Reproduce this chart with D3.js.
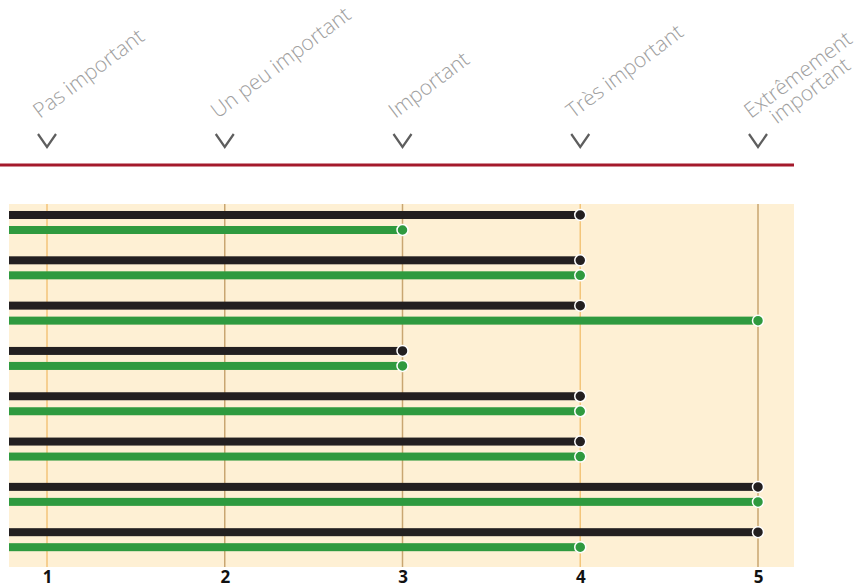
<!DOCTYPE html>
<html><head><meta charset="utf-8">
<script src="https://cdn.jsdelivr.net/npm/d3@7"></script>
<style>body{margin:0;background:#fff}svg{display:block}</style>
</head><body>
<script>
const levels = [1,2,3,4,5];
const levelLabels = [["Pas important"],["Un peu important"],["Important"],["Très important"],["Extrêmement","important"]];
const rows = ["A","B","C","D","E","F","G","H"];
const seriesBlack = [4,4,4,3,4,4,5,5];
const seriesGreen = [3,4,5,3,4,4,5,4];
const gridColors = ["#f3c57a","#c9a671","#c9a671","#f3c57a","#c9a671"];

const W=857,H=587;
const svg=d3.select("body").append("svg").attr("width",W).attr("height",H);
const x=d3.scaleLinear().domain([1,5]).range([47,758]);
const y=d3.scaleBand().domain(rows).range([200,562.5]);
const panel={x0:9,x1:794,y0:204,y1:567};

// header labels
levels.forEach((v,i)=>{
  const g=svg.append("g").attr("transform",`translate(${x(v)-7},119) rotate(-37)`);
  const lines=levelLabels[i];
  const ts=lines.map((l,j)=>g.append("text").attr("y",j*20).text(l)
    .attr("font-family","Open Sans").attr("font-weight",300).attr("font-size",21).attr("fill","#a0a0a0"));
  if(lines.length>1){
    const l0=ts[0].node().getComputedTextLength();
    ts.forEach((t,j)=>{const l=t.node().getComputedTextLength();t.attr("x",(l0-l)/2);});
  }
  // chevron
  svg.append("path").attr("d",`M${x(v)-9},134 L${x(v)},147 L${x(v)+9},134`)
    .attr("fill","none").attr("stroke","#5e5e5e").attr("stroke-width",2.2);
});
svg.append("line").attr("x1",0).attr("x2",794).attr("y1",165).attr("y2",165)
  .attr("stroke","#a4192b").attr("stroke-width",3);

// panel
svg.append("rect").attr("x",panel.x0).attr("y",panel.y0).attr("width",panel.x1-panel.x0).attr("height",panel.y1-panel.y0).attr("fill","#fef0d4");
svg.selectAll("line.grid").data(levels).join("line").attr("class","grid")
  .attr("x1",d=>x(d)).attr("x2",d=>x(d)).attr("y1",panel.y0).attr("y2",panel.y1)
  .attr("stroke",(d,i)=>gridColors[i]).attr("stroke-width",1.5);

const series=[{vals:seriesBlack,color:"#231f20",off:15},{vals:seriesGreen,color:"#2f9a3f",off:30}];
series.forEach(s=>{
  const g=svg.append("g");
  g.selectAll("rect").data(rows).join("rect")
    .attr("x",panel.x0).attr("y",(d,i)=>y(d)+s.off-4)
    .attr("width",(d,i)=>x(s.vals[i])-panel.x0).attr("height",8).attr("fill",s.color);
  g.selectAll("circle").data(rows).join("circle")
    .attr("cx",(d,i)=>x(s.vals[i])).attr("cy",(d,i)=>y(d)+s.off).attr("r",5.5)
    .attr("fill",s.color).attr("stroke","#fff").attr("stroke-width",1.5);
});

// bottom axis
const ax=svg.append("g").attr("transform","translate(0,568)")
  .call(d3.axisBottom(x).tickValues(levels).tickFormat(d3.format("d")).tickSize(0).tickPadding(3));
ax.select(".domain").remove();
ax.selectAll("text").attr("font-family","Open Sans").attr("font-weight",700).attr("font-size",17).attr("fill","#111");
</script>
</body></html>
